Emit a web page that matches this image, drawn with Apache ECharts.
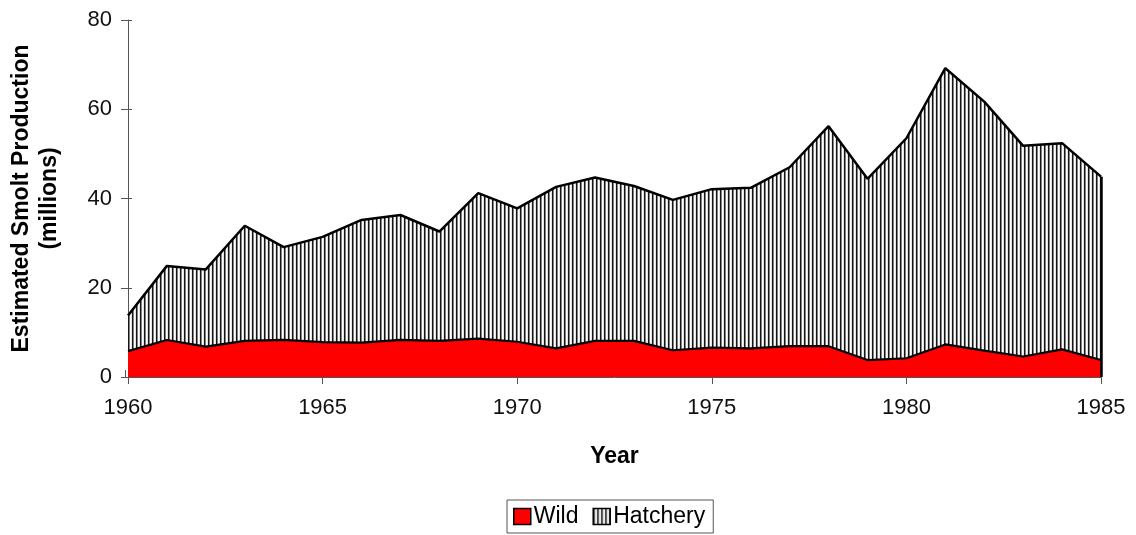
<!DOCTYPE html>
<html>
<head>
<meta charset="utf-8">
<script src="https://cdn.jsdelivr.net/npm/echarts@6/dist/echarts.min.js"></script>
<style>
  html, body { margin: 0; padding: 0; background: #fff; }
  #chart { width: 1136px; height: 535px; }
</style>
</head>
<body>
<div id="chart"></div>
<script>
// years on the x axis
const years = ["1960", "1961", "1962", "1963", "1964", "1965", "1966", "1967", "1968", "1969",
  "1970", "1971", "1972", "1973", "1974", "1975", "1976", "1977", "1978", "1979",
  "1980", "1981", "1982", "1983", "1984", "1985"];
// wild smolts (millions)
const wild = [5.8, 8.3, 6.8, 8.1, 8.3, 7.8, 7.7, 8.3, 8.1, 8.6, 7.9, 6.4, 8.1,
  8.1, 6.0, 6.6, 6.4, 6.9, 6.9, 3.8, 4.2, 7.3, 5.9, 4.6, 6.2, 3.8];
// hatchery smolts (millions), stacked on wild
const hatchery = [8.0, 16.6, 17.3, 25.8, 20.8, 23.6, 27.5, 28.0, 24.5, 32.6, 29.9, 36.2, 36.6,
  34.7, 33.7, 35.5, 36.0, 40.1, 49.3, 40.6, 49.3, 61.9, 55.8, 47.2, 46.2, 41.1];

const FONT = "Liberation Sans, Arial, sans-serif";

// vertical stripe fill for the hatchery area (dark line, grey edge, white gap)
const stripe = document.createElement("canvas");
stripe.width = 4;
stripe.height = 4;
const sctx = stripe.getContext("2d");
const cols = ["#151515", "#808080", "#ffffff", "#e4e4e4"];
cols.forEach((c, i) => {
  sctx.fillStyle = c;
  sctx.fillRect(i, 0, 1, 4);
});
const stripeFill = { image: stripe, repeat: "repeat" };

const chart = echarts.init(document.getElementById("chart"));
const last = years.length - 1;

const option = {
  animation: false,
  backgroundColor: "#fff",
  grid: [
    { left: 125, right: 35, top: 20, bottom: 158 },
    { left: 125, right: 35, top: 20, bottom: 158 }
  ],
  legend: {
    left: 507,
    bottom: 2,
    orient: "horizontal",
    borderColor: "#555",
    borderWidth: 1,
    padding: [5, 8, 5, 6],
    itemGap: 14,
    itemWidth: 17,
    itemHeight: 16,
    icon: "rect",
    textStyle: { fontFamily: FONT, fontSize: 23, color: "#000", padding: [0, 0, 0, -2] },
    data: [
      { name: "Wild", itemStyle: { color: "#ff0000", borderColor: "#000", borderWidth: 1.5 } },
      { name: "Hatchery", itemStyle: { color: stripeFill, borderColor: "#000", borderWidth: 1.5 } }
    ]
  },
  xAxis: [
    {
      type: "category",
      data: years,
      boundaryGap: false,
      name: "Year",
      nameLocation: "middle",
      nameGap: 68,
      nameTextStyle: { fontFamily: FONT, fontSize: 23, fontWeight: "bold", color: "#000" },
      axisLine: { show: true, lineStyle: { color: "#555", width: 1 } },
      axisTick: { show: true, interval: 4, length: 7, lineStyle: { color: "#555" } },
      axisLabel: { interval: 4, fontFamily: FONT, fontSize: 22, color: "#111", margin: 20 },
      splitLine: { show: false }
    },
    {
      type: "category",
      gridIndex: 1,
      data: years,
      boundaryGap: false,
      axisLine: { show: false },
      axisTick: { show: true, interval: 4, inside: true, length: 7, lineStyle: { color: "#555" } },
      axisLabel: { show: false },
      splitLine: { show: false }
    }
  ],
  yAxis: [
    {
      type: "value",
      min: 0,
      max: 80,
      interval: 20,
      name: "Estimated Smolt Production\n(millions)",
      nameLocation: "middle",
      nameGap: 64,
      nameTextStyle: { fontFamily: FONT, fontSize: 23, fontWeight: "bold", color: "#000", lineHeight: 28 },
      axisLine: { show: true, lineStyle: { color: "#555", width: 1 } },
      axisTick: { show: true, length: 7, lineStyle: { color: "#555" } },
      axisLabel: { fontFamily: FONT, fontSize: 22, color: "#111", margin: 16 },
      splitLine: { show: false }
    },
    {
      type: "value",
      gridIndex: 1,
      min: 0,
      max: 80,
      interval: 20,
      axisLine: { show: false },
      axisTick: { show: true, inside: true, length: 7, lineStyle: { color: "#555" } },
      axisLabel: { show: false },
      splitLine: { show: false }
    }
  ],
  series: [
    {
      name: "Wild",
      type: "line",
      stack: "smolt",
      symbol: "none",
      data: wild,
      lineStyle: { color: "#000", width: 2.2 },
      itemStyle: { color: "#ff0000" },
      areaStyle: { color: "#ff0000", opacity: 1 },
      z: 3
    },
    {
      name: "Hatchery",
      type: "line",
      stack: "smolt",
      symbol: "none",
      data: hatchery,
      lineStyle: { color: "#000", width: 2.5 },
      itemStyle: { color: "#000" },
      areaStyle: { color: stripeFill, opacity: 1 },
      markLine: {
        silent: true,
        symbol: "none",
        label: { show: false },
        lineStyle: { color: "#000", width: 2.5, type: "solid" },
        data: [[
          { coord: [years[last], 0] },
          { coord: [years[last], wild[last] + hatchery[last]] }
        ]]
      },
      z: 2
    }
  ]
};

chart.setOption(option);
</script>
</body>
</html>
